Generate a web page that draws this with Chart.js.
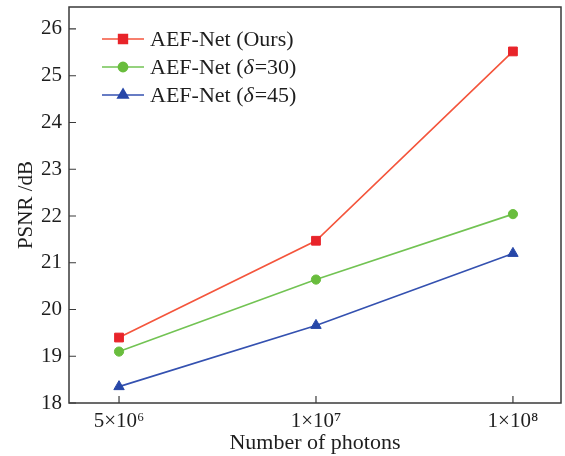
<!DOCTYPE html>
<html>
<head>
<meta charset="utf-8">
<script src="https://cdn.jsdelivr.net/npm/chart.js@4/dist/chart.umd.min.js"></script>
<style>
  html, body { margin: 0; padding: 0; background: #fff; }
  #wrap { width: 565px; height: 456px; }
</style>
</head>
<body>
<div id="wrap"><canvas id="c" width="565" height="456"></canvas></div>
<script>
const photonLabels = ["5×10⁶", "1×10⁷", "1×10⁸"]
const seriesNames = ["AEF-Net (Ours)", "AEF-Net (δ=30)", "AEF-Net (δ=45)"]
const oursPSNR = [19.4, 21.47, 25.52]
const delta30PSNR = [19.1, 20.64, 22.04]
const delta45PSNR = [18.35, 19.66, 21.2]

const lineColors = ["#f4553c", "#72c353", "#3451b0"]
const markerColors = ["#e8242a", "#69bd3d", "#2747a8"]
const markerStyles = ["rect", "circle", "triangle"]
const markerSizes = [6.2, 4.6, 6]

const toPoints = (vals) => vals.map((y, i) => ({ x: i, y }))

const datasets = [oursPSNR, delta30PSNR, delta45PSNR].map((vals, i) => ({
  label: seriesNames[i],
  data: toPoints(vals),
  borderColor: lineColors[i],
  backgroundColor: markerColors[i],
  pointBackgroundColor: markerColors[i],
  pointBorderColor: markerColors[i],
  pointBorderWidth: 1,
  pointStyle: markerStyles[i],
  pointRadius: markerSizes[i],
  borderWidth: 1.6,
  tension: 0,
  fill: false,
}))

// frame + inward ticks
const framePlugin = {
  id: "frame",
  afterDraw(chart) {
    const { ctx, chartArea: a, scales } = chart
    ctx.save()
    ctx.strokeStyle = "#3a3a3a"
    ctx.lineWidth = 1.5
    ctx.strokeRect(a.left, a.top, a.right - a.left, a.bottom - a.top)
    ctx.lineWidth = 1.2
    ctx.beginPath()
    scales.x.ticks.forEach(t => {
      const px = scales.x.getPixelForValue(t.value)
      ctx.moveTo(px, a.bottom)
      ctx.lineTo(px, a.bottom - 7)
    })
    scales.y.ticks.forEach(t => {
      const py = scales.y.getPixelForValue(t.value)
      ctx.moveTo(a.left, py)
      ctx.lineTo(a.left + 7, py)
    })
    ctx.stroke()
    ctx.restore()
  }
}

// legend inside the plot, δ in italics
const legendPlugin = {
  id: "innerLegend",
  afterDraw(chart) {
    const { ctx } = chart
    const font = "22px 'Liberation Serif'"
    const italic = "italic 22px 'Liberation Serif'"
    ctx.save()
    chart.data.datasets.forEach((ds, i) => {
      const y = 39 + i * 28
      ctx.strokeStyle = ds.borderColor
      ctx.lineWidth = 1.6
      ctx.beginPath()
      ctx.moveTo(102, y)
      ctx.lineTo(144, y)
      ctx.stroke()
      ctx.fillStyle = ds.pointBackgroundColor
      ctx.strokeStyle = ds.pointBorderColor
      Chart.helpers.drawPoint(ctx, { pointStyle: ds.pointStyle, radius: ds.pointRadius, rotation: 0, borderWidth: 1 }, 123, y)

      ctx.fillStyle = "#1e1e1e"
      ctx.textBaseline = "middle"
      ctx.textAlign = "left"
      let x = 150
      const parts = ds.label.split("δ")
      parts.forEach((p, k) => {
        if (k > 0) {
          ctx.font = italic
          ctx.fillText("δ", x, y + 1)
          x += ctx.measureText("δ").width + 1
        }
        ctx.font = font
        ctx.fillText(p, x, y + 1)
        x += ctx.measureText(p).width
      })
    })
    ctx.restore()
  }
}

Chart.defaults.font.family = "'Liberation Serif', serif"
Chart.defaults.color = "#1e1e1e"

new Chart(document.getElementById("c"), {
  type: "line",
  data: { datasets },
  options: {
    responsive: false,
    animation: false,
    layout: { autoPadding: false, padding: { top: 7, right: 4, left: 0, bottom: 0 } },
    plugins: { legend: { display: false }, tooltip: { enabled: false } },
    scales: {
      x: {
        type: "linear",
        min: -0.254,
        max: 2.244,
        grid: { display: false, drawTicks: false },
        border: { display: false },
        ticks: {
          stepSize: 1,
          includeBounds: false,
          padding: 6,
          font: { size: 21 },
          maxRotation: 0,
          callback: (v) => photonLabels[v] ?? "",
        },
        title: { display: true, text: "Number of photons", font: { size: 22 }, padding: { top: 0, bottom: 0 } },
        afterFit: (s) => { s.height = 53; s.paddingLeft = 0; s.paddingRight = 0 },
      },
      y: {
        min: 18,
        max: 26.47,
        grid: { display: false, drawTicks: false },
        border: { display: false },
        ticks: {
          stepSize: 1,
          includeBounds: false,
          padding: 7,
          font: { size: 21 },
          callback: (v) => Number.isInteger(v) ? String(v) : "",
        },
        title: { display: true, text: "PSNR /dB", font: { size: 21 }, padding: { top: 14, bottom: 0 } },
        afterFit: (s) => { s.width = 69; s.paddingTop = 0; s.paddingBottom = 0 },
      },
    },
  },
  plugins: [framePlugin, legendPlugin],
})
</script>
</body>
</html>
